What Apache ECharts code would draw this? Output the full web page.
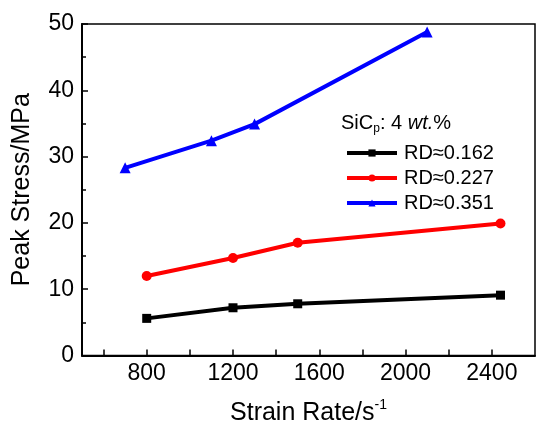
<!DOCTYPE html>
<html>
<head>
<meta charset="utf-8">
<script src="https://cdn.jsdelivr.net/npm/echarts@6/dist/echarts.min.js"></script>
<style>
  html, body { margin: 0; padding: 0; background: #fff; }
  #chart { width: 536px; height: 431px; }
</style>
</head>
<body>
<div id="chart"></div>
<script>
// strain rate (s^-1) and peak stress (MPa)
var rd162X = [800, 1200, 1500, 2440];
var rd162Y = [5.6, 7.2, 7.8, 9.1];
var rd227X = [800, 1200, 1500, 2440];
var rd227Y = [12.0, 14.7, 17.0, 19.9];
var rd351X = [700, 1100, 1300, 2100];
var rd351Y = [28.3, 32.4, 34.9, 48.8];
var seriesNames = ['RD≈0.162', 'RD≈0.227', 'RD≈0.351'];
var xLabels = [800, 1200, 1600, 2000, 2400];
var xTicks = [600, 800, 1000, 1200, 1400, 1600, 1800, 2000, 2200, 2400];

var font = 'Liberation Sans';

function pairs(xs, ys) {
    return xs.map(function (x, i) { return [x, ys[i]]; });
}

function line(name, xs, ys, color, symbol, size) {
    return {
        name: name,
        type: 'line',
        data: pairs(xs, ys),
        symbol: symbol,
        symbolSize: size,
        color: color,
        lineStyle: {width: 4, color: color},
        itemStyle: {color: color},
        animation: false
    };
}

var chart = echarts.init(document.getElementById('chart'));
chart.setOption({
    backgroundColor: '#fff',
    textStyle: {fontFamily: font},
    title: {
        text: '{a|SiC}{sub|p}{a|: 4 }{it|wt.}{a|%}',
        left: 341,
        top: 111,
        padding: 0,
        textStyle: {
            fontWeight: 'normal',
            rich: {
                a: {fontSize: 20, color: '#000', fontFamily: font, fontWeight: 'normal', lineHeight: 24},
                it: {fontSize: 20, color: '#000', fontFamily: font, fontWeight: 'normal', fontStyle: 'italic', lineHeight: 24},
                sub: {fontSize: 12, color: '#000', fontFamily: font, fontWeight: 'normal', lineHeight: 12, padding: [24, 0, 0, 0], verticalAlign: 'bottom'}
            }
        }
    },
    legend: {
        data: seriesNames,
        orient: 'vertical',
        left: 340,
        top: 138,
        itemWidth: 50,
        itemHeight: 9,
        itemGap: 5,
        lineStyle: {width: 4},
        textStyle: {fontSize: 20, color: '#000', fontFamily: font, padding: [0, 0, 0, 2]}
    },
    grid: {
        left: 82,
        right: 1,
        top: 24,
        bottom: 69,
        show: true,
        borderColor: '#000',
        borderWidth: 1.5,
        containLabel: false
    },
    xAxis: {
        type: 'value',
        min: 500,
        max: 2600,
        name: '{a|Strain Rate/s}{sup|-1}',
        nameLocation: 'middle',
        nameGap: 43,
        nameTextStyle: {
            rich: {
                a: {fontSize: 25, color: '#000', fontFamily: font, lineHeight: 30},
                sup: {fontSize: 14, color: '#000', fontFamily: font, lineHeight: 14, verticalAlign: 'top'}
            }
        },
        axisLine: {lineStyle: {color: '#000', width: 2}},
        axisTick: {inside: true, length: 6, customValues: xTicks, lineStyle: {color: '#000', width: 1.5}},
        axisLabel: {
            customValues: xLabels,
            fontSize: 23,
            color: '#000',
            fontFamily: font,
            margin: 7,
            formatter: function (v) { return String(v); }
        },
        splitLine: {show: false}
    },
    yAxis: {
        type: 'value',
        min: 0,
        max: 50,
        interval: 10,
        name: 'Peak Stress/MPa',
        nameLocation: 'middle',
        nameGap: 47,
        nameTextStyle: {fontSize: 25, color: '#000', fontFamily: font},
        axisLine: {lineStyle: {color: '#000', width: 2}},
        axisTick: {inside: true, length: 6, lineStyle: {color: '#000', width: 1.5}},
        minorTick: {show: true, splitNumber: 2, length: 4, lineStyle: {color: '#000', width: 1.5}},
        axisLabel: {fontSize: 23, color: '#000', fontFamily: font, margin: 8},
        splitLine: {show: false}
    },
    series: [
        line(seriesNames[0], rd162X, rd162Y, '#000000', 'rect', 9),
        line(seriesNames[1], rd227X, rd227Y, '#ff0000', 'circle', 10),
        line(seriesNames[2], rd351X, rd351Y, '#0000ff', 'triangle', 11)
    ]
});
</script>
</body>
</html>
